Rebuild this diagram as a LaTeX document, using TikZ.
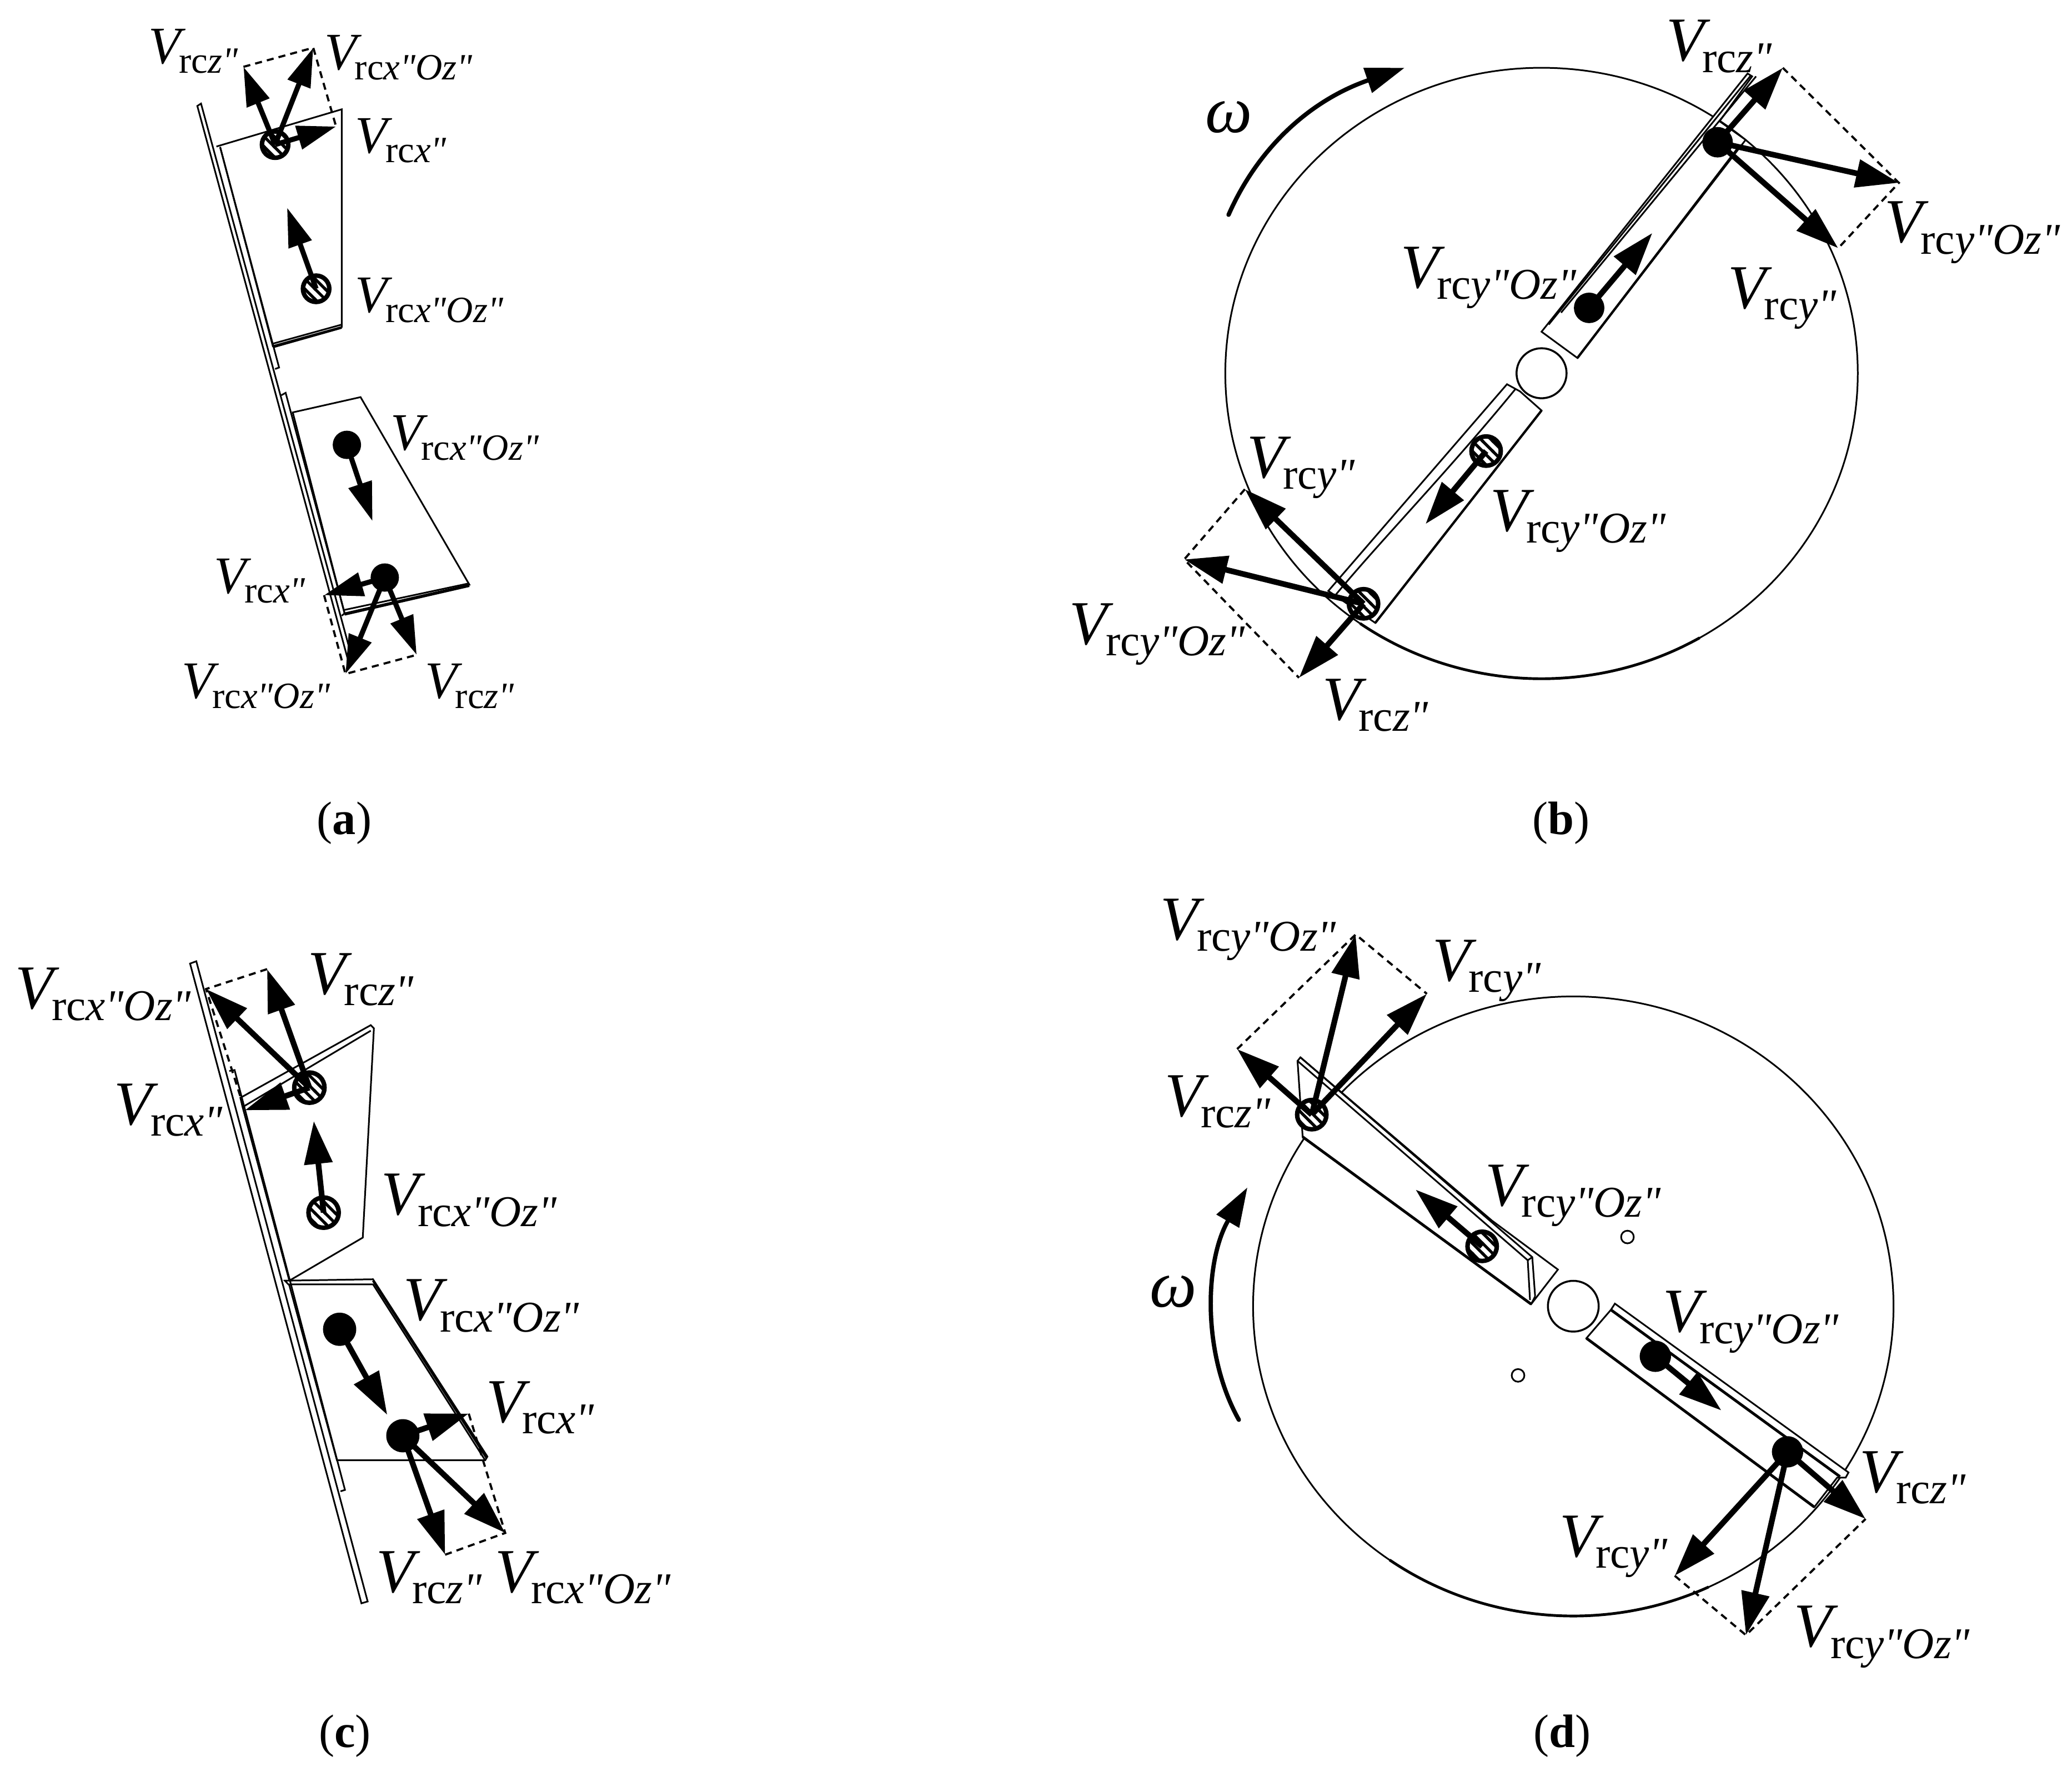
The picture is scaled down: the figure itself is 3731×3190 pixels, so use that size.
\documentclass[tikz,border=0pt]{standalone}
\usepackage{fontspec}
\setmainfont{Liberation Serif}[Ligatures=TeXOff]
\usetikzlibrary{arrows.meta,patterns}
\pgfdeclarepatternformonly{stripnw}{\pgfqpoint{-1pt}{-1pt}}{\pgfqpoint{6.2pt}{6.2pt}}{\pgfqpoint{5.2pt}{5.2pt}}{\pgfsetlinewidth{1.5pt}\pgfpathmoveto{\pgfqpoint{-0.5pt}{5.7pt}}\pgfpathlineto{\pgfqpoint{5.7pt}{-0.5pt}}\pgfusepath{stroke}}
\newcommand\VV[1]{\kern-3pt{\fontsize{32}{32}\selectfont\itshape V}\kern-1pt\raisebox{-5.8pt}{\fontsize{22.5}{22.5}\selectfont rc\itshape #1}}
\newcommand\VA[1]{\kern-3pt{\fontsize{27}{27}\selectfont\itshape V}\kern-1pt\raisebox{-5pt}{\fontsize{19}{19}\selectfont rc\itshape #1}}
\tikzset{
 thinl/.style={line width=0.85pt,line join=miter},
 heavyl/.style={line width=1.4pt},
 blade/.style={thinl,fill=white},
 vec/.style={line width=2.9pt,-{Triangle[length=22pt,width=14pt]}},
 veca/.style={line width=2.6pt,-{Triangle[length=20pt,width=12pt]}},
 dashl/.style={line width=1.1pt,dash pattern=on 3.6pt off 2.6pt},
 hdot/.style={circle,draw,line width=2.3pt,minimum size=15pt,inner sep=0pt,preaction={fill=white},pattern=stripnw},
 bdot/.style={circle,fill=black,minimum size=15.6pt,inner sep=0pt},
 lab/.style={anchor=base west,inner sep=0pt,outer sep=0pt,yshift=0.5pt},
 capt/.style={anchor=base,inner sep=0pt,font=\fontsize{24}{24}\selectfont},
 omg/.style={anchor=center,inner sep=0pt,font=\fontsize{34}{34}\selectfont\itshape},
 swing/.style={line width=2.2pt,line cap=round,-{Triangle[length=20pt,width=13pt]}}
}
\begin{document}
\begin{tikzpicture}[x=0.01cm,y=-0.01cm]
\fill[white] (0,0) rectangle (3731,3190);
\useasboundingbox (0,0) rectangle (3731,3190);

% ---------- panel (a)
\begin{scope}[shift={(2.5cm,0cm)},x=0.005128cm,y=-0.008591cm]
\coordinate (at1) at (367,140); \coordinate (at2) at (612,100); \coordinate (at3) at (692,265);
\coordinate (at4) at (520,435); \coordinate (at5) at (820,1092); \coordinate (at6) at (650,1247);
\coordinate (at7) at (725,1412); \coordinate (at8) at (975,1372);
\draw[blade] (205,222)--(218,217)--(745,1372)--(735,1385)--cycle;
\draw[blade] (272,307)--(712,229)--(712,685)--(470,725)--(285,308);
\draw[thinl] (470,720)--(712,680) (475,727)--(712,687);
\draw[thinl] (285,308)--(492,770)--(478,773);
\draw[blade] (540,864)--(778,832)--(1160,1225)--(722,1285)--cycle;
\draw[thinl] (720,1278)--(1160,1222) (722,1288)--(1160,1228);
\draw[thinl] (500,828)--(515,823)--(722,1285)--(712,1290);
\node[hdot,minimum size=13.5pt] (ad1) at (478,303) {};
\node[hdot,minimum size=13.5pt] (ad2) at (622,605) {};
\node[bdot,minimum size=14.5pt] (ad3) at (730,932) {};
\node[bdot,minimum size=14.5pt] (ad4) at (863,1210) {};
\draw[dashl] (at1)--(at2)--(at3) (at6)--(at7)--(at8);
\draw[veca] (ad1.center)--(at1);
\draw[veca] (ad1.center)--(at2);
\draw[veca] (ad1.center)--(at3);
\draw[veca] (ad2.center)--(at4);
\draw[veca] (ad3.center)--(at5);
\draw[veca] (ad4.center)--(at6);
\draw[veca] (ad4.center)--(at7);
\draw[veca] (ad4.center)--(at8);
\node[lab] (al1) at (55,135) {\VA{z"}};
\node[lab] (al2) at (672,148) {\VA{x"Oz"}};
\node[lab] (al3) at (780,322) {\VA{x"}};
\node[lab] (al4) at (780,657) {\VA{x"Oz"}};
\node[lab] (al5) at (905,945) {\VA{x"Oz"}};
\node[lab] (al6) at (285,1245) {\VA{x"}};
\node[lab] (al7) at (172,1465) {\VA{x"Oz"}};
\node[lab] (al8) at (1025,1465) {\VA{z"}};
\end{scope}

% ---------- panel (b)
\begin{scope}[shift={(19cm,0cm)},x=0.011737cm,y=-0.008591cm]
\coordinate (bhc) at (745,782);
\draw[thinl] (bhc) circle[x radius=485,y radius=640];
\draw[heavyl] (bhc) ++(125:485 and 640) arc[start angle=125,end angle=60,x radius=485,y radius=640];
\coordinate (bt1) at (1115,142); \coordinate (bt2) at (1293,383); \coordinate (bt3) at (1200,520);
\coordinate (bt4) at (915,488); \coordinate (bt5) at (567,1098); \coordinate (bt6) at (290,1025);
\coordinate (bt7) at (197,1172); \coordinate (bt8) at (373,1420);
\draw[blade] (745,695)--(800,750)--(1058,293)--(1018,254)--(1068,160)--(1061,154)--cycle;
\draw[line width=1.2pt] (800,750)--(1046,311);
\draw[thinl] (1066,158)--(756,680) (1074,160)--(775,655);
\draw[blade] (692,805)--(712,820)--(745,860)--(490,1305)--(418,1238)--cycle;
\draw[line width=1.2pt] (745,860)--(490,1305);
\draw[thinl] (705,815) .. controls (600,990) and (500,1130) .. (430,1245);
\node[circle,draw,line width=1pt,fill=white,minimum size=25.6pt,inner sep=0pt] (bh) at (bhc) {};
\node[bdot] (bd1) at (1015,298) {};
\node[bdot] (bd2) at (818,645) {};
\node[hdot] (bd3) at (660,945) {};
\node[hdot] (bd4) at (472,1265) {};
\draw[dashl] (bt1)--(bt2)--(bt3) (bt6)--(bt7)--(bt8);
\draw[vec] (bd1.center)--(bt1);
\draw[vec] (bd1.center)--(bt2);
\draw[vec] (bd1.center)--(bt3);
\draw[vec] (bd2.center)--(bt4);
\draw[vec] (bd3.center)--(bt5);
\draw[vec] (bd4.center)--(bt6);
\draw[vec] (bd4.center)--(bt7);
\draw[vec] (bd4.center)--(bt8);
\coordinate (bo1) at (265,450); \coordinate (bo2) at (535,142);
\draw[swing] (bo1) .. controls (310,310) and (390,210) .. (bo2);
\node[omg] (bom) at (265,245) {ω};
\node[lab] (bl1) at (945,130) {\VV{z"}};
\node[lab] (bl2) at (1280,510) {\VV{y"Oz"}};
\node[lab] (bl3) at (1040,648) {\VV{y"}};
\node[lab] (bl4) at (538,605) {\VV{y"Oz"}};
\node[lab] (bl5) at (675,1115) {\VV{y"Oz"}};
\node[lab] (bl6) at (302,1003) {\VV{y"}};
\node[lab] (bl7) at (30,1352) {\VV{y"Oz"}};
\node[lab] (bl8) at (418,1510) {\VV{z"}};
\end{scope}

% ---------- panel (c)
\begin{scope}[shift={(0cm,-16.8cm)},x=0.008013cm,y=-0.008333cm]
\coordinate (ct1) at (463,120); \coordinate (ct2) at (600,77); \coordinate (ct3) at (550,382);
\coordinate (ct4) at (705,405); \coordinate (ct5) at (870,1040); \coordinate (ct6) at (1135,1295);
\coordinate (ct7) at (1000,1342); \coordinate (ct8) at (1053,1037);
\draw[blade] (427,65)--(441,60)--(826,1443)--(812,1447)--cycle;
\draw[blade] (540,355)--(833,198)--(840,205)--(815,657)--(650,750)--(545,375)--cycle;
\draw[thinl] (545,375)--(833,210);
\draw[blade] (640,750)--(838,747)--(1095,1130)--(1090,1138)--(757,1138)--(650,760)--cycle;
\draw[thinl] (650,758)--(838,758)--(1090,1138);
\draw[line width=1.1pt] (838,750)--(1093,1133);
\draw[thinl] (515,297)--(527,295)--(775,1202)--(765,1205);
\node[hdot,minimum size=15.5pt] (cd1) at (695,333) {};
\node[hdot,minimum size=15.5pt] (cd2) at (727,603) {};
\node[bdot,minimum size=17pt] (cd3) at (763,855) {};
\node[bdot,minimum size=17pt] (cd4) at (905,1085) {};
\draw[dashl] (ct2)--(ct1)--(ct3) (ct7)--(ct6)--(ct8);
\draw[vec] (cd1.center)--(ct1);
\draw[vec] (cd1.center)--(ct2);
\draw[vec] (cd1.center)--(ct3);
\draw[vec] (cd2.center)--(ct4);
\draw[vec] (cd3.center)--(ct5);
\draw[vec] (cd4.center)--(ct6);
\draw[vec] (cd4.center)--(ct7);
\draw[vec] (cd4.center)--(ct8);
\node[lab] (cl1) at (48,165) {\VV{x"Oz"}};
\node[lab] (cl2) at (705,133) {\VV{z"}};
\node[lab] (cl3) at (270,415) {\VV{x"}};
\node[lab] (cl4) at (870,610) {\VV{x"Oz"}};
\node[lab] (cl5) at (920,838) {\VV{x"Oz"}};
\node[lab] (cl6) at (1105,1058) {\VV{x"}};
\node[lab] (cl7) at (858,1425) {\VV{z"}};
\node[lab] (cl8) at (1125,1425) {\VV{x"Oz"}};
\end{scope}

% ---------- panel (d)
\begin{scope}[shift={(20.5cm,-16cm)},x=0.010256cm,y=-0.009294cm]
\coordinate (dhc) at (762,808);
\draw[thinl] (dhc) circle[x radius=562,y radius=600];
\draw[heavyl] (dhc) ++(125:562 and 600) arc[start angle=125,end angle=65,x radius=562,y radius=600];
\coordinate (dt1) at (172,310); \coordinate (dt2) at (380,88); \coordinate (dt3) at (505,203);
\coordinate (dt4) at (485,582); \coordinate (dt5) at (1022,1010); \coordinate (dt6) at (1275,1220);
\coordinate (dt7) at (940,1330); \coordinate (dt8) at (1065,1445);
\draw[blade] (283,326)--(619,642)--(735,737)--(688,804)--(287,480)--(278,333)--cycle;
\draw[heavyl] (287,480)--(688,804);
\draw[thinl] (278,333)--(682,719)--(686,796);
\draw[thinl] (283,326)--(690,713)--(695,789);
\draw[thinl] (682,719)--(690,713) (688,804)--(695,789);
\draw[blade] (835,803)--(1245,1130)--(1240,1140)--(1225,1140)--(1185,1197)--(785,870)--(828,815)--cycle;
\draw[heavyl] (828,815)--(1230,1138) (785,870)--(1185,1197);
\node[circle,draw,line width=1pt,fill=white,minimum size=26pt,inner sep=0pt] (dh) at (dhc) {};
\node[circle,draw,thinl,fill=white,minimum size=6.5pt,inner sep=0pt] (dp1) at (857,674) {};
\node[circle,draw,thinl,fill=white,minimum size=6.5pt,inner sep=0pt] (dp2) at (665,942) {};
\node[hdot] (dd1) at (303,437) {};
\node[hdot] (dd2) at (602,692) {};
\node[bdot,minimum size=16pt] (dd3) at (906,905) {};
\node[bdot,minimum size=16pt] (dd4) at (1138,1090) {};
\draw[dashl] (dt1)--(dt2)--(dt3) (dt7)--(dt8)--(dt6);
\draw[vec] (dd1.center)--(dt1);
\draw[vec] (dd1.center)--(dt2);
\draw[vec] (dd1.center)--(dt3);
\draw[vec] (dd2.center)--(dt4);
\draw[vec] (dd3.center)--(dt5);
\draw[vec] (dd4.center)--(dt6);
\draw[vec] (dd4.center)--(dt7);
\draw[vec] (dd4.center)--(dt8);
\coordinate (do1) at (175,1028); \coordinate (do2) at (190,578);
\draw[swing] (do1) .. controls (110,900) and (115,720) .. (do2);
\node[omg] (dom) at (60,780) {ω};
\node[lab] (dl1) at (48,100) {\VV{y"Oz"}};
\node[lab] (dl2) at (525,180) {\VV{y"}};
\node[lab] (dl3) at (55,442) {\VV{z"}};
\node[lab] (dl4) at (618,615) {\VV{y"Oz"}};
\node[lab] (dl5) at (930,860) {\VV{y"Oz"}};
\node[lab] (dl6) at (1275,1170) {\VV{z"}};
\node[lab] (dl7) at (748,1295) {\VV{y"}};
\node[lab] (dl8) at (1160,1470) {\VV{y"Oz"}};
\end{scope}

% ---------- captions
\node[capt] (capa) at (620,1502) {(\textbf{a})};
\node[capt] (capb) at (2811,1502) {(\textbf{b})};
\node[capt] (capc) at (621,3146) {(\textbf{c})};
\node[capt] (capd) at (2813,3146) {(\textbf{d})};
\end{tikzpicture}
\end{document}
